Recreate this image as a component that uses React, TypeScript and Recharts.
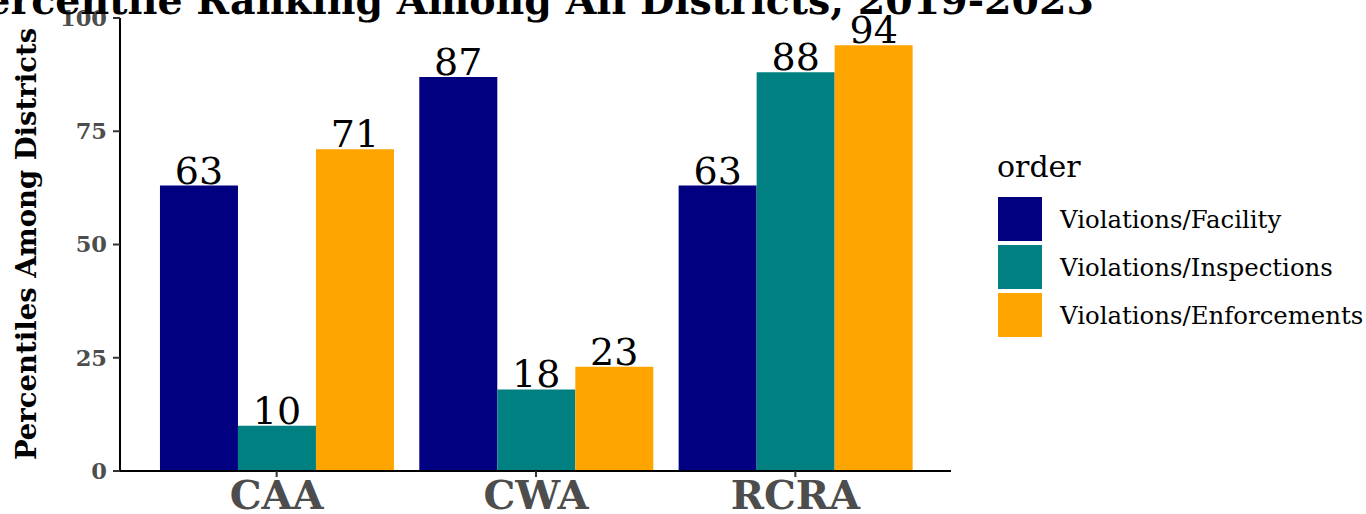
import React from 'react';
import { BarChart, Bar, XAxis, YAxis, LabelList } from 'recharts';

const categories = ['CAA', 'CWA', 'RCRA'];
const facilityValues = [63, 87, 63];
const inspectionValues = [10, 18, 88];
const enforcementValues = [71, 23, 94];
const yTicks = [0, 25, 50, 75, 100];

const series = [
  { key: 'facility', name: 'Violations/Facility', color: '#000080', values: facilityValues },
  { key: 'inspections', name: 'Violations/Inspections', color: '#008080', values: inspectionValues },
  { key: 'enforcements', name: 'Violations/Enforcements', color: '#FFA500', values: enforcementValues },
];

const data = categories.map((cat, i) => {
  const row: any = { category: cat };
  series.forEach((s) => {
    row[s.key] = s.values[i];
  });
  return row;
});

const FONT = "'DejaVu Serif', serif";

const App = () => {
  return (
    <div style={{ position: 'absolute', left: 0, top: 0, width: 1366, height: 514, background: '#fff', fontFamily: FONT }}>
      <BarChart
        width={1366}
        height={514}
        data={data}
        margin={{ top: 18, right: 415, left: 60, bottom: 0 }}
        barCategoryGap="5%"
        barGap={0}
      >
        <XAxis
          dataKey="category"
          height={43}
          padding={{ left: 27, right: 26 }}
          axisLine={{ stroke: '#000', strokeWidth: 2 }}
          tickLine={{ stroke: '#333', strokeWidth: 2 }}
          tickSize={6}
          tick={{ fill: '#4d4d4d', fontSize: 40, fontWeight: 'bold', fontFamily: FONT }}
          tickMargin={4}
        />
        <YAxis
          width={60}
          domain={[0, 100]}
          ticks={yTicks}
          axisLine={{ stroke: '#000', strokeWidth: 2 }}
          tickLine={{ stroke: '#333', strokeWidth: 2 }}
          tickSize={7}
          tick={{ fill: '#4d4d4d', fontSize: 22.5, fontWeight: 'bold', fontFamily: FONT }}
          tickMargin={6}
        />
        {series.map((s) => (
          <Bar key={s.key} dataKey={s.key} name={s.name} fill={s.color} isAnimationActive={false}>
            <LabelList
              dataKey={s.key}
              position="top"
              offset={2}
              style={{ fill: '#000', fontSize: 38, fontFamily: FONT }}
            />
          </Bar>
        ))}
      </BarChart>
      <svg width={1366} height={514} style={{ position: 'absolute', left: 0, top: 0, pointerEvents: 'none' }}>
        <text x={1094} y={14} textAnchor="end" fontSize={39.5} fontWeight="bold" fontFamily={FONT} fill="#000">
          Percentile Ranking Among All Districts, 2019-2023
        </text>
        <text
          x={0}
          y={0}
          transform="translate(36 244) rotate(-90)"
          textAnchor="middle"
          fontSize={27.5}
          fontWeight="bold"
          fontFamily={FONT}
          fill="#000"
        >
          Percentiles Among Districts
        </text>
        <text x={997} y={177} fontSize={30} fontFamily={FONT} fill="#000">
          order
        </text>
        {series.map((s, i) => (
          <g key={s.key}>
            <rect x={998} y={197 + i * 48} width={44} height={44} fill={s.color} />
            <text x={1060} y={219 + i * 48} dominantBaseline="central" fontSize={24.4} fontFamily={FONT} fill="#000">
              {s.name}
            </text>
          </g>
        ))}
      </svg>
    </div>
  );
};

export default App;
